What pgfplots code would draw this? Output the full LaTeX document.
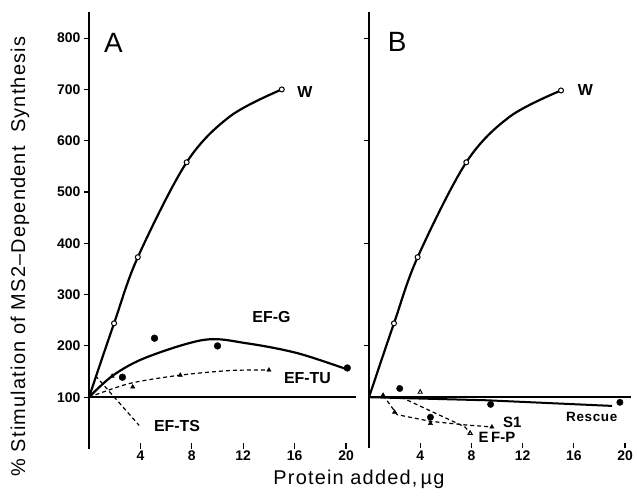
\documentclass[border=0pt]{standalone}
\usepackage{fontspec}
\setmainfont{Liberation Sans}
\newfontfamily\labfont[LetterSpace=6]{Liberation Sans}
\newfontfamily\widebold[LetterSpace=5]{Liberation Sans Bold}
\usepackage{pgfplots}
\pgfplotsset{compat=1.18}

\pgfplotsset{
  panel/.style={
    scale only axis,
    height=436bp,
    xmin=0, ymin=0, ymax=850,
    axis y line=left, axis x line=bottom,
    axis line style={-, line width=2bp},
    x axis line style={draw=none},
    xtick={4,8,12,16,20},
    xtick align=inside,
    ytick align=outside,
    major tick length=5bp,
    tick style={line width=1.1bp, black},
    ticklabel style={font=\bfseries\fontsize{14}{14}\selectfont},
    xticklabel style={yshift=1bp},
    /pgf/number format/assume math mode=true,
    clip=false,
  },
  cline/.style={line width=2.2bp, smooth, tension=0.55},
  dline/.style={line width=1.2bp, dash pattern=on 4bp off 3bp},
  openpt/.style={only marks, mark=*, mark size=2.5bp, mark options={fill=white, draw=black, line width=1bp}},
}
\tikzset{lab/.style={font=\bfseries\fontsize{16}{16}\selectfont}}

\begin{document}
\begin{tikzpicture}
\path[use as bounding box] (0,0) rectangle (637bp,497bp);

% panel A
\begin{axis}[panel, width=267.3bp, xmax=20.8,
  at={(89bp,48.5bp)}, anchor=south west,
  ytick={100,200,...,800},
  ylabel={\labfont\fontsize{20}{20}\selectfont \% Stimulation of MS2–Dependent\ \ Synthesis},
  ylabel style={at={(axis description cs:-0.258,0.44)}, anchor=center},
  xlabel={\labfont\fontsize{20}{20}\selectfont Protein added,\,µg},
  xlabel style={at={(axis description cs:1.01,0)}, anchor=center, yshift=-31bp},
]
% baseline at 100 %
\addplot[line width=2.2bp] coordinates {(0,100) (20.8,100)};
% W
\addplot[cline] coordinates {(0,100) (1.95,244) (3.8,373) (7.6,558) (11,648) (15,700)};
\addplot[openpt] coordinates {(1.95,244) (3.8,373) (7.6,558) (15,700)};
% EF-G
\addplot[cline] coordinates {(0,100) (1.9,143) (4.5,178) (9,212) (12.3,205) (16.2,186) (20,155)};
\addplot[only marks, mark=*, mark size=3.4bp] coordinates {(2.6,139) (5.1,215) (10,200) (20.1,157)};
% EF-TU
\addplot[dline, smooth] coordinates {(0,100) (3.2,127) (7.1,143) (11,152) (14,153)};
\addplot[only marks, mark=triangle*, mark size=2.5bp] coordinates {(1.8,141) (3.4,120) (7.1,143) (14,153)};
% EF-TS
\addplot[dline] coordinates {(0.5,142) (3.9,45)};

\node[lab] at (axis cs:16.8,695) {W};
\node[lab] at (axis cs:14.2,256) {EF-G};
\node[lab] at (axis cs:17.0,137) {EF-TU};
\node[lab] at (axis cs:6.85,43) {EF-TS};
\node[font=\fontsize{28}{28}\selectfont] at (axis cs:1.9,790) {A};
\end{axis}

% panel B
\begin{axis}[panel, width=262.4bp, xmax=20.5,
  at={(369bp,48.5bp)}, anchor=south west,
  ytick={200,400,600,800}, yticklabels={},
]
\addplot[line width=2.2bp] coordinates {(0,100) (20.5,100)};
% W
\addplot[cline] coordinates {(0,100) (1.95,244) (3.8,373) (7.6,558) (11,647) (15,698)};
\addplot[openpt] coordinates {(1.95,244) (3.8,373) (7.6,558) (15,698)};
% Rescue
\addplot[line width=2bp] coordinates {(0,100) (9.2,94) (19,83)};
\addplot[only marks, mark=*, mark size=3.2bp] coordinates {(2.4,117) (4.8,61) (9.5,86) (19.6,90)};
% S1
\addplot[dline] coordinates {(1.1,104) (2.2,66) (4.8,53) (7.5,46) (9.6,42)};
\addplot[only marks, mark=triangle*, mark size=2.5bp] coordinates {(1.1,104) (2.0,71) (4.8,49) (9.6,42)};
% EF-P
\addplot[dline] coordinates {(2.5,100) (7.5,42) (7.9,30)};
\addplot[only marks, mark=triangle, mark size=2.4bp, mark options={line width=0.9bp}] coordinates {(4,110) (7.9,30)};

\node[lab] at (axis cs:16.9,698) {W};
\node[font=\widebold\fontsize{13.5}{13.5}\selectfont] at (axis cs:17.4,61) {Rescue};
\node[font=\bfseries\fontsize{15}{15}\selectfont] at (axis cs:11.2,50) {S1};
\node[font=\bfseries\fontsize{15}{15}\selectfont] at (axis cs:10.0,22) {E\,F-P};
\node[font=\fontsize{28}{28}\selectfont] at (axis cs:2.2,792) {B};
\end{axis}
\end{tikzpicture}
\end{document}
